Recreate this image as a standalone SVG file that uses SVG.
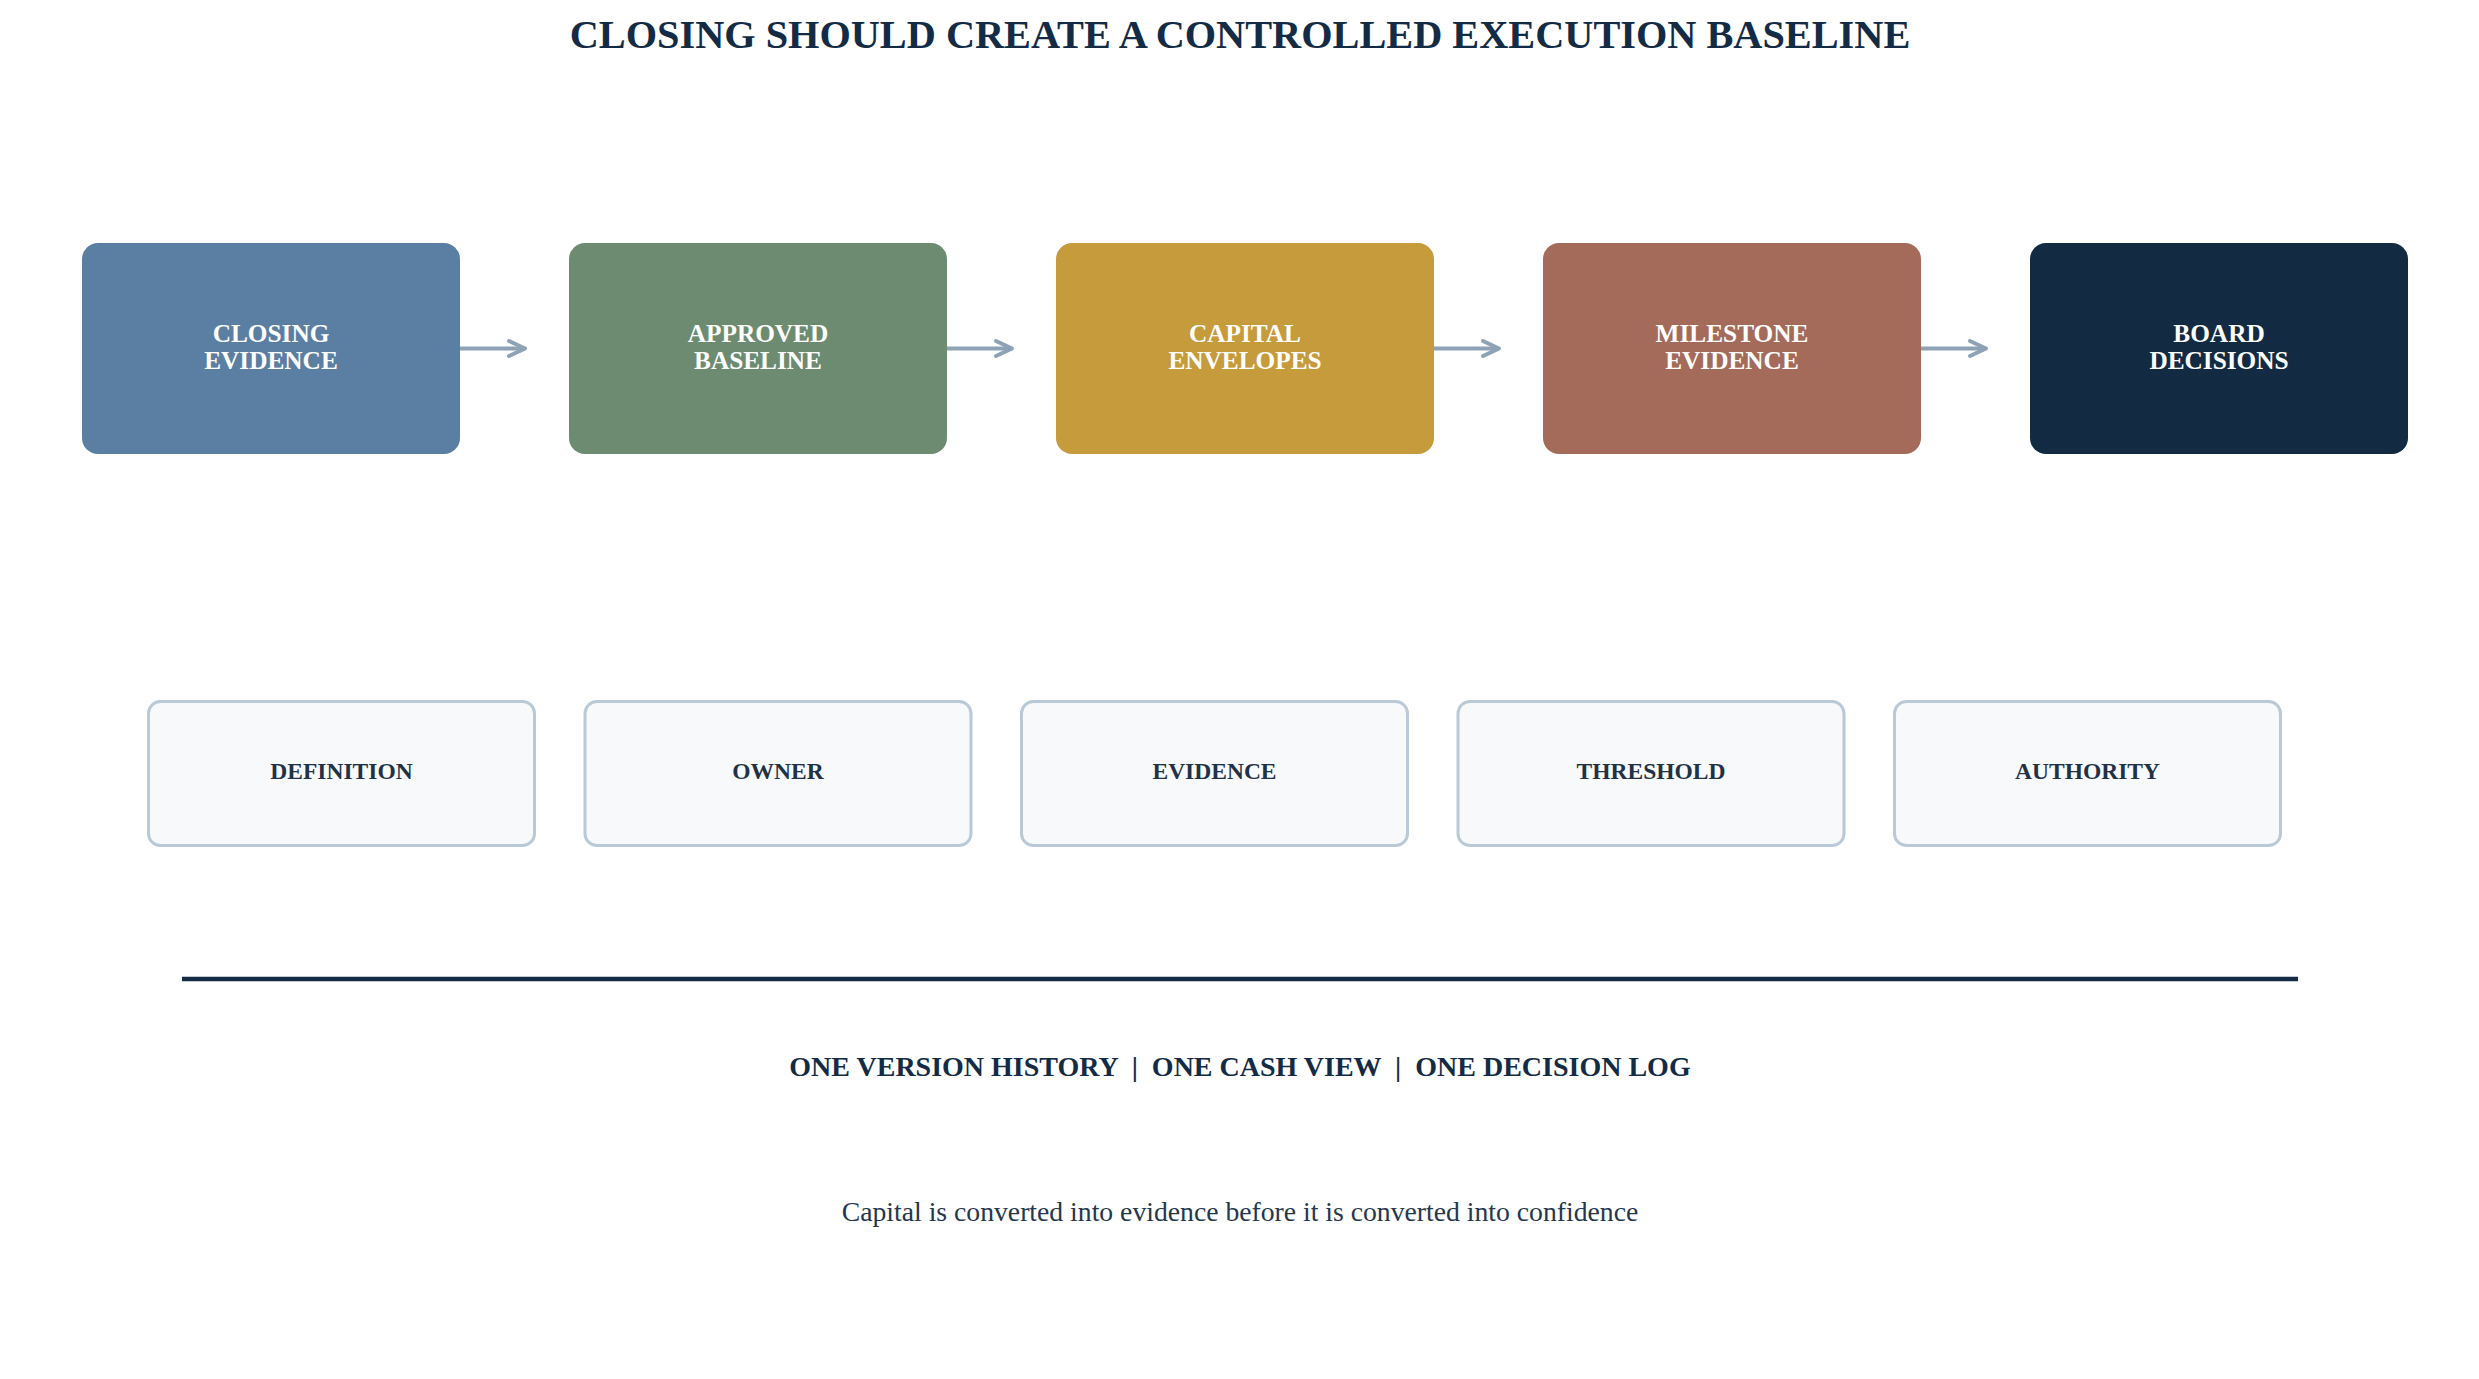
<svg xmlns="http://www.w3.org/2000/svg" width="2479" height="1379" viewBox="0 0 2479 1379">
  <style>
    .title { font-family: "Liberation Serif", "Times New Roman", serif; font-weight: bold; font-size: 40.3px; fill: #132b45; }
    .stage { font-family: "Liberation Serif", "Times New Roman", serif; font-weight: bold; font-size: 25.3px; fill: #ffffff; }
    .ctrl-box { fill: #f7f9fb; stroke: #b9c9d8; stroke-width: 3; }
    .ctrl { font-family: "Liberation Serif", "Times New Roman", serif; font-weight: bold; font-size: 23.5px; fill: #1f3247; }
    .strap { font-family: "Liberation Serif", "Times New Roman", serif; font-weight: bold; font-size: 28px; fill: #132b45; white-space: pre; }
    .caption { font-family: "Liberation Serif", "Times New Roman", serif; font-size: 27.7px; fill: #24374d; }
    .conn { stroke: #8ea2b6; stroke-width: 4; fill: none; }
  </style>
  <defs>
    <marker id="chev" markerUnits="userSpaceOnUse" viewBox="0 0 24 24" markerWidth="24" markerHeight="24" refX="20" refY="12" orient="auto">
      <path d="M4,4.5 L20,12 L4,19.5" fill="none" stroke="#8ea2b6" stroke-width="4" stroke-linejoin="round" stroke-linecap="round"/>
    </marker>
  </defs>
  <rect x="0" y="0" width="2479" height="1379" fill="#ffffff"/>

  <text class="title" x="1240" y="48" text-anchor="middle">CLOSING SHOULD CREATE A CONTROLLED EXECUTION BASELINE</text>

  <g id="stage-closing-evidence">
    <rect x="82" y="243" width="378" height="211" rx="16" fill="#5b7fa3"/>
    <text class="stage" x="271" text-anchor="middle"><tspan x="271" y="342">CLOSING</tspan><tspan x="271" y="368.5">EVIDENCE</tspan></text>
  </g>
  <g id="stage-approved-baseline">
    <rect x="569" y="243" width="378" height="211" rx="16" fill="#6d8b71"/>
    <text class="stage" x="758" text-anchor="middle"><tspan x="758" y="342">APPROVED</tspan><tspan x="758" y="368.5">BASELINE</tspan></text>
  </g>
  <g id="stage-capital-envelopes">
    <rect x="1056" y="243" width="378" height="211" rx="16" fill="#c69b3c"/>
    <text class="stage" x="1245" text-anchor="middle"><tspan x="1245" y="342">CAPITAL</tspan><tspan x="1245" y="368.5">ENVELOPES</tspan></text>
  </g>
  <g id="stage-milestone-evidence">
    <rect x="1543" y="243" width="378" height="211" rx="16" fill="#a46b5b"/>
    <text class="stage" x="1732" text-anchor="middle"><tspan x="1732" y="342">MILESTONE</tspan><tspan x="1732" y="368.5">EVIDENCE</tspan></text>
  </g>
  <g id="stage-board-decisions">
    <rect x="2030" y="243" width="378" height="211" rx="16" fill="#122a42"/>
    <text class="stage" x="2219" text-anchor="middle"><tspan x="2219" y="342">BOARD</tspan><tspan x="2219" y="368.5">DECISIONS</tspan></text>
  </g>

  <g id="connectors">
    <line class="conn" x1="460" y1="348.5" x2="525" y2="348.5" marker-end="url(#chev)"/>
    <line class="conn" x1="947" y1="348.5" x2="1012" y2="348.5" marker-end="url(#chev)"/>
    <line class="conn" x1="1434" y1="348.5" x2="1499" y2="348.5" marker-end="url(#chev)"/>
    <line class="conn" x1="1921" y1="348.5" x2="1986" y2="348.5" marker-end="url(#chev)"/>
  </g>

  <g id="ctrl-definition">
    <rect class="ctrl-box" x="148.5" y="701.5" width="386" height="144" rx="12"/>
    <text class="ctrl" x="341.5" y="779" text-anchor="middle">DEFINITION</text>
  </g>
  <g id="ctrl-owner">
    <rect class="ctrl-box" x="585" y="701.5" width="386" height="144" rx="12"/>
    <text class="ctrl" x="778" y="779" text-anchor="middle">OWNER</text>
  </g>
  <g id="ctrl-evidence">
    <rect class="ctrl-box" x="1021.5" y="701.5" width="386" height="144" rx="12"/>
    <text class="ctrl" x="1214.5" y="779" text-anchor="middle">EVIDENCE</text>
  </g>
  <g id="ctrl-threshold">
    <rect class="ctrl-box" x="1458" y="701.5" width="386" height="144" rx="12"/>
    <text class="ctrl" x="1651" y="779" text-anchor="middle">THRESHOLD</text>
  </g>
  <g id="ctrl-authority">
    <rect class="ctrl-box" x="1894.5" y="701.5" width="386" height="144" rx="12"/>
    <text class="ctrl" x="2087.5" y="779" text-anchor="middle">AUTHORITY</text>
  </g>

  <line x1="182" y1="979" x2="2298" y2="979" stroke="#132b45" stroke-width="4.5"/>

  <text class="strap" x="1240" y="1076" text-anchor="middle" xml:space="preserve">ONE VERSION HISTORY  |  ONE CASH VIEW  |  ONE DECISION LOG</text>

  <text class="caption" x="1240" y="1221" text-anchor="middle">Capital is converted into evidence before it is converted into confidence</text>
</svg>
